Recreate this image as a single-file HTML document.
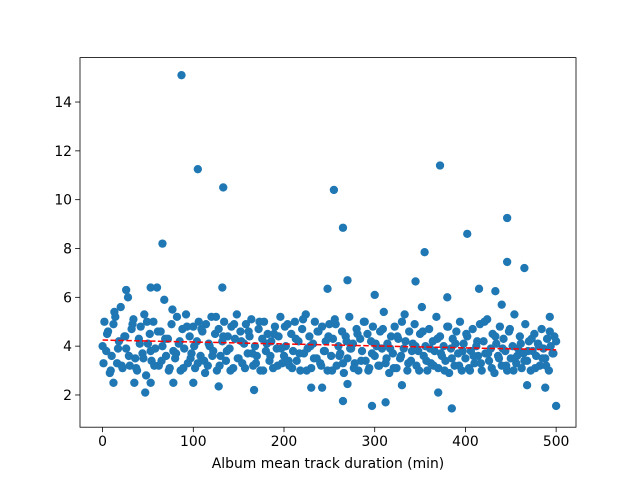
<!DOCTYPE html>
<html><head><meta charset="utf-8">
<style>
html,body{margin:0;padding:0;background:#fff;}
svg{display:block;font-family:"DejaVu Sans","Liberation Sans",sans-serif;}
</style></head>
<body>
<svg id="chart" width="640" height="480" viewBox="0 0 640 480"></svg>
<script>
// Data (read/estimated from the reference)
const bulkAY = [4.0,5.0,3.8,4.6,2.9,3.6,4.9,5.2,3.3,4.2,
5.6,3.1,4.4,3.9,6.0,3.2,4.7,5.1,3.5,3.0,
4.3,4.8,3.7,5.3,2.8,4.1,4.5,3.4,5.0,3.9,
6.4,3.2,4.6,4.0,5.9,3.6,4.3,3.1,4.9,3.8,
3.5,5.2,4.1,3.0,4.7,3.9,5.3,3.3,4.4,3.7,
4.8,3.1,4.2,5.0,3.6,4.6,3.4,4.9,3.2,4.0,
5.2,3.8,4.5,3.0,4.7,3.6,4.2,5.0,3.4,4.4,
3.9,4.8,3.1,4.3,5.3,3.5,4.6,3.3,4.1,4.9,
3.7,4.4,5.1,3.2,4.0,3.6,4.7,3.0,4.3,5.0,
3.8,4.5,3.4,4.2,3.1,4.8,3.9,4.4,5.2,3.3,
3.6,4.0,4.9,3.2,4.5,3.8,5.0,3.4,4.2,3.0,
4.7,3.7,5.3,3.9,4.4,3.1,4.1,5.0,3.5,4.6,
3.3,4.8,3.8,4.2,3.0,4.9,3.6,4.3,5.1,3.2,
4.0,3.7,4.6,2.9,4.4,3.5,5.2,3.9,4.1,3.3,
4.7,3.0,4.3,3.8,5.0,3.4,4.5,3.1,4.2,4.8,
3.6,4.0,3.2,4.6,3.9,5.4,3.3,4.1,2.9,4.4,
3.7,4.8,3.1,4.3,3.5,5.0,3.9,4.2,3.0,4.6,
3.4,4.1,4.9,3.2,3.8,4.5,5.6,3.6,4.0,3.0,
4.7,3.3,4.2,3.8,5.2,3.1,4.4,3.6,4.0,3.4,
4.8,2.9,3.9,4.3,3.2,4.6,3.7,5.0,3.0,4.1,
3.5,4.4,3.1,3.8,4.7,3.3,4.0,3.6,4.9,3.0,
4.2,3.7,5.1,3.4,3.9,4.5,2.9,4.1,3.6,4.8,
3.2,4.3,3.8,3.0,4.6,3.5,4.0,5.3,3.3,3.9,
4.4,3.1,3.7,4.9,3.4,4.2,3.0,3.8,4.5,3.6,
4.1,3.2,4.7,3.9,3.5,4.3,3.0,4.0,3.7,4.4,
4.2];
const bulkBY = [3.3,4.5,3.0,5.4,3.9,3.2,4.4,3.6,4.9,3.1,
4.1,3.5,5.0,3.8,3.2,4.6,3.4,4.3,3.0,5.5,
3.7,4.2,3.1,4.8,3.5,4.0,3.3,4.7,2.9,4.1,
3.6,5.2,3.2,4.4,3.8,3.0,4.9,3.5,4.2,3.1,
4.6,3.7,3.3,5.0,3.0,4.1,3.6,4.5,3.2,3.9,
4.8,3.4,3.1,4.3,3.7,5.1,3.0,4.0,3.5,4.6,
3.2,3.8,4.4,3.0,4.9,3.6,3.3,4.2,3.9,3.1,
4.5,3.4,5.0,3.0,3.7,4.1,3.2,4.7,3.5,3.9,
3.1,4.4,3.6,5.3,3.3,3.8,4.0,3.0,4.6,3.4,
3.9,3.2,4.3,3.7,3.0,4.8,3.5,4.1,3.2,3.8,
4.5,3.0,3.6,4.2,3.3,5.0,3.7,3.1,4.4,3.5,
3.9,3.2,4.7,3.0,3.6,4.1,3.4,3.8,4.3,3.1,
4.0,3.5,3.2,4.6,3.7];
const extraX = [87,105,133,255,265,66,372,402,446,446,465,355,345,270,248,132,53,26,415,433,380,300,440,493,
385,297,500,265,312,47,167,370,12,35,53,78,100,128,230,242,270,330,468,488];
const extraY = [15.1,11.25,10.5,10.4,8.85,8.2,11.4,8.6,9.25,7.45,7.2,7.85,6.65,6.7,6.35,6.4,6.4,6.3,6.35,6.25,6.0,6.1,5.7,5.2,
1.45,1.55,1.55,1.75,1.7,2.1,2.2,2.1,2.5,2.5,2.5,2.5,2.5,2.35,2.3,2.3,2.45,2.4,2.4,2.3];
const trendX = [0,500];
const trendY = [4.25,3.85];
const xTicks = [0,100,200,300,400,500];
const yTicks = [2,4,6,8,10,12,14];

const NS="http://www.w3.org/2000/svg";
const svg=document.getElementById('chart');
const L=80,R=576,T=57.6,B=427.2;
const xmin=-24.9,xmax=521.9,ymin=0.68,ymax=15.82;
const sx=v=>L+(v-xmin)/(xmax-xmin)*(R-L);
const sy=v=>B-(v-ymin)/(ymax-ymin)*(B-T);
function mk(tag,attrs,parent){const e=document.createElementNS(NS,tag);for(const k in attrs)e.setAttribute(k,attrs[k]);(parent||svg).appendChild(e);return e;}

const pts=mk('g',{});


function dot(x,y){const c=mk('circle',{cx:sx(x).toFixed(2),cy:sy(y).toFixed(2),r:4.17,fill:'#1f77b4'},pts);

}
bulkAY.forEach((y,i)=>dot(i*2,y));
bulkBY.forEach((y,i)=>dot(1+i*4,y));
extraX.forEach((x,i)=>dot(x,extraY[i]));

const tl=mk('line',{x1:sx(trendX[0]),y1:sy(trendY[0]),x2:sx(trendX[1]),y2:sy(trendY[1]),stroke:'#ff0000','stroke-width':1.5,'stroke-dasharray':'5.5,2.4'});



const frame=mk('rect',{x:L,y:T,width:R-L,height:B-T,fill:'none',stroke:'#000','stroke-width':0.8});



xTicks.forEach(v=>{const x=sx(v);
const t=mk('line',{x1:x,y1:B,x2:x,y2:B+4.9,stroke:'#000','stroke-width':0.8});


const lb=mk('text',{x:x,y:B+19,'font-size':'13.9','text-anchor':'middle',fill:'#000'});lb.textContent=v;

});
yTicks.forEach(v=>{const y=sy(v);
const t=mk('line',{x1:L,y1:y,x2:L-4.9,y2:y,stroke:'#000','stroke-width':0.8});


const lb=mk('text',{x:L-8,y:y+5,'font-size':'13.9','text-anchor':'end',fill:'#000'});lb.textContent=v;

});
const xl=mk('text',{x:(L+R)/2,y:468,'font-size':'13.9','text-anchor':'middle',fill:'#000'});
xl.textContent='Album mean track duration (min)';


</script>
</body></html>
